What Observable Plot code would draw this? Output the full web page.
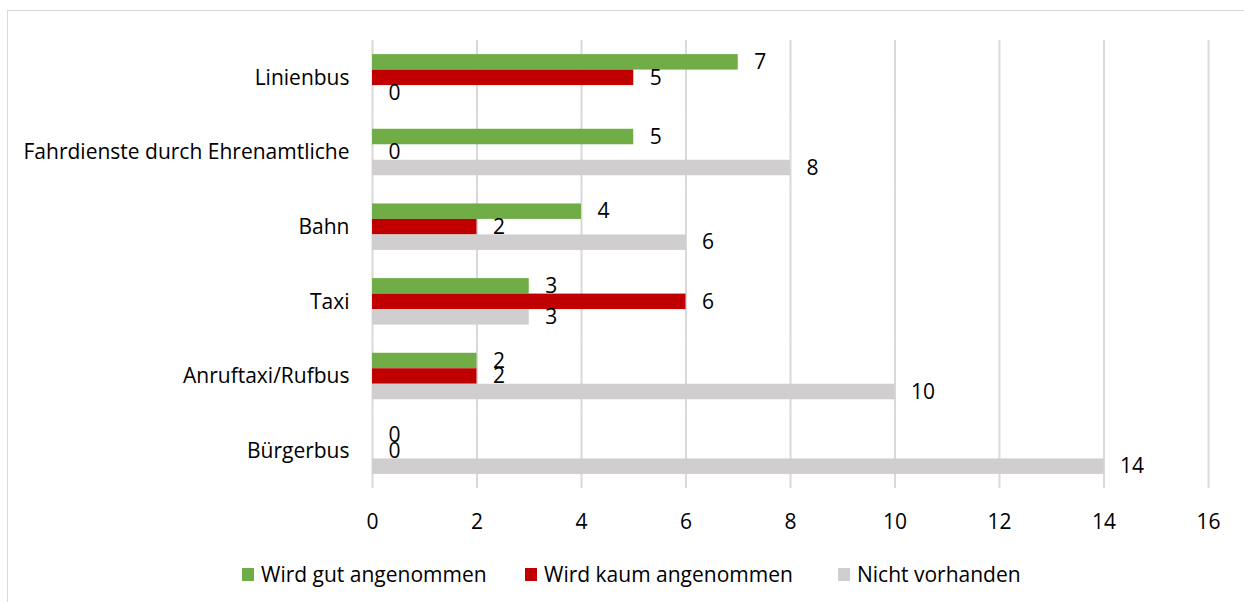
<!DOCTYPE html>
<html>
<head>
<meta charset="utf-8">
<script src="https://cdn.jsdelivr.net/npm/d3@7"></script>
<script src="https://cdn.jsdelivr.net/npm/@observablehq/plot@0.6"></script>
<style>
  html, body { margin: 0; padding: 0; background: #fff; }
  #wrap { position: relative; width: 1244px; height: 602px; overflow: hidden; font-family: "Open Sans", sans-serif; }
  #frame { position: absolute; left: 7px; top: 10px; width: 1300px; height: 700px; border-left: 1.5px solid #d9d9d9; border-top: 1.5px solid #d9d9d9; }
  #chart { position: absolute; left: 0; top: 0; }
  .lg { position: absolute; top: 560px; display: flex; align-items: center; font-size: 21px; color: #000; white-space: nowrap; }
  .lg span.sw { display: inline-block; width: 12px; height: 13px; margin-right: 7px; }
</style>
</head>
<body>
<div id="wrap">
  <div id="frame"></div>
  <div id="chart"></div>
</div>
<script>
const categories = ["Linienbus", "Fahrdienste durch Ehrenamtliche", "Bahn", "Taxi", "Anruftaxi/Rufbus", "Bürgerbus"];
const series = ["Wird gut angenommen", "Wird kaum angenommen", "Nicht vorhanden"];
const gutAngenommen = [7, 5, 4, 3, 2, 0];
const kaumAngenommen = [5, 0, 2, 6, 2, 0];
const nichtVorhanden = [0, 8, 6, 3, 10, 14];
const colors = ["#70AD47", "#C00000", "#D0CECE"];
const xTicks = [0, 2, 4, 6, 8, 10, 12, 14, 16];
const legendX = [242, 525, 838];

const seriesValues = [gutAngenommen, kaumAngenommen, nichtVorhanden];
const data = categories.flatMap((c, i) => series.map((s, j) => ({category: c, series: s, value: seriesValues[j][i]})));

const chart = Plot.plot({
  width: 1244,
  height: 545,
  marginLeft: 372,
  marginRight: 36,
  marginTop: 40,
  marginBottom: 57,
  style: {fontFamily: "Open Sans, sans-serif", fontSize: "21px", color: "#000", background: "transparent"},
  x: {domain: [0, 16], label: null},
  fy: {domain: categories, padding: 0, round: false, label: null},
  y: {domain: series, paddingInner: 0, paddingOuter: 0.91, round: false, axis: null},
  color: {domain: series, range: colors},
  marks: [
    Plot.ruleX(xTicks, {stroke: "#d9d9d9", strokeWidth: 2}),
    Plot.barX(data, {fy: "category", y: "series", x: "value", fill: "series"}),
    Plot.text(data, {fy: "category", y: "series", x: "value", text: d => String(d.value), textAnchor: "start", dx: 16, fill: "#000", fontSize: 21}),
    Plot.axisX({ticks: xTicks, tickSize: 0, tickPadding: 26, label: null, fontSize: 21, tickFormat: d => String(d)}),
    Plot.axisFy({anchor: "left", tickSize: 0, tickPadding: 23, label: null, fontSize: 21})
  ]
});
document.getElementById("chart").appendChild(chart);

const wrap = document.getElementById("wrap");
series.forEach((s, j) => {
  const item = document.createElement("div");
  item.className = "lg";
  item.style.left = legendX[j] + "px";
  const sw = document.createElement("span");
  sw.className = "sw";
  sw.style.background = colors[j];
  item.appendChild(sw);
  item.appendChild(document.createTextNode(s));
  wrap.appendChild(item);
});
</script>
</body>
</html>
